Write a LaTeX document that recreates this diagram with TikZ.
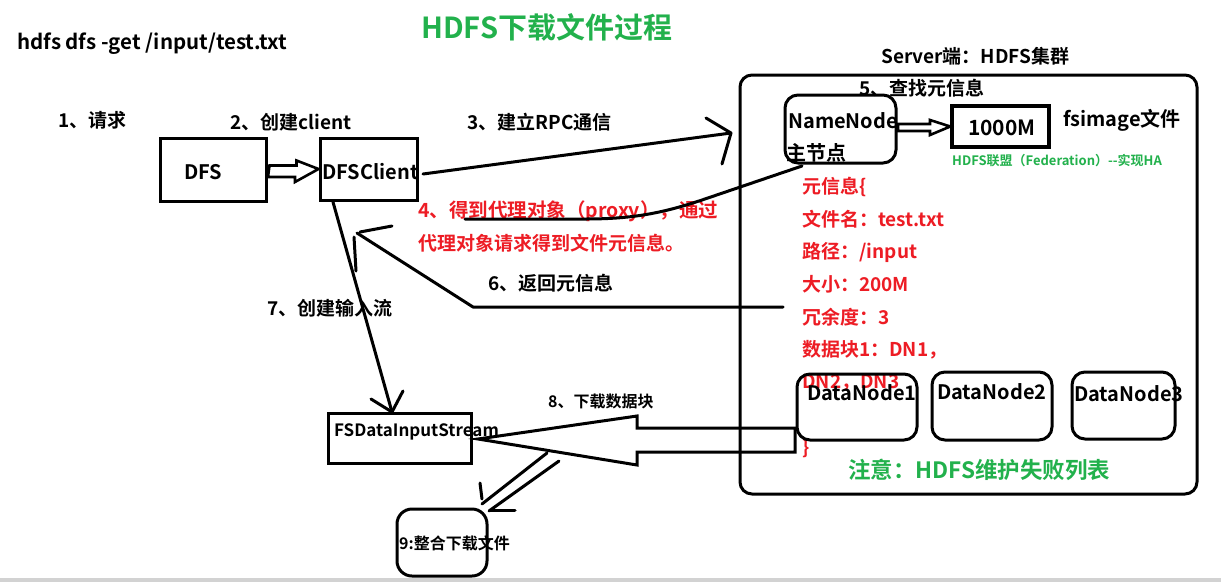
\documentclass[tikz,border=0pt]{standalone}
\usepackage{fontspec}
\setmainfont{Noto Sans CJK SC Bold}
\definecolor{pgreen}{HTML}{22B14C}
\definecolor{pred}{HTML}{ED1C24}
\definecolor{pgray}{HTML}{D2D2D2}
\tikzset{
  txt/.style={inner sep=0pt, anchor=west, font=\fontsize{#1}{#1}\selectfont},
  sq/.style={draw, line width=3pt, inner sep=0pt},
  rbox/.style={draw, line width=3pt, inner sep=0pt, rounded corners=13pt},
  conn/.style={line width=3pt, line cap=round, line join=round},
  hollow/.style={line width=2.6pt, line join=miter},
  meta/.style={txt=19, text=pred},
}
\begin{document}
\begin{tikzpicture}[x=1pt,y=-1pt]
\useasboundingbox (0,0) rectangle (1221,582);
\fill[white] (0,0) rectangle (1221,582);
\fill[pgray] (0,578) rectangle (1221,582);

% titles and labels
\node[txt=29, text=pgreen] (title) at (421,27) {HDFS下载文件过程};
\node[txt=20.5] (cmd) at (17,44) {hdfs dfs -get /input/test.txt};
\node[txt=19] (l1) at (58,120) {1、请求};
\node[txt=19] (l2) at (230,122) {2、创建client};
\node[txt=19] (l3) at (467,122) {3、建立RPC通信};
\node[txt=19] (srv) at (881,56) {Server端：HDFS集群};
\node[txt=19] (l5) at (859,88) {5、查找元信息};
\node[txt=19.5, text=pred] (l4a) at (418,211) {4、得到代理对象（proxy），通过};
\node[txt=19, text=pred] (l4b) at (418,243) {代理对象请求得到文件元信息。};
\node[txt=19] (l6) at (488,283) {6、返回元信息};
\node[txt=19] (l7) at (267,308) {7、创建输入流};
\node[txt=16] (l8) at (548,401) {8、下载数据块};

% boxes
\node[sq, minimum width=106pt, minimum height=63pt] (dfs) at (213,169.5) {};
\node[txt=20] (dfst) at (184,172) {DFS};
\node[sq, minimum width=97pt, minimum height=62pt] (dfsc) at (368.5,169) {};
\node[txt=20] (dfsct) at (322,172) {DFSClient};

\node[rbox, minimum width=457pt, minimum height=419pt, rounded corners=12pt] (server) at (968.5,284.5) {};
\node[rbox, minimum width=111pt, minimum height=68pt] (nn) at (840.5,129) {};
\node[txt=20] (nnt) at (788,121) {NameNode};
\node[txt=20] (nnt2) at (786,153) {主节点};
\node[sq, minimum width=97pt, minimum height=41pt, line width=3.5pt] (img) at (1000.5,126.5) {};
\node[txt=21] (imgt) at (968,128) {1000M};
\node[txt=20] (fsimg) at (1063,120) {fsimage文件};
\node[txt=13, text=pgreen] (fed) at (952,161) {HDFS联盟（Federation）-{}-实现HA};

\node[meta] (m1) at (802,187) {元信息\{};
\node[meta] (m2) at (802,219) {文件名：test.txt};
\node[meta] (m3) at (802,252) {路径：/input};
\node[meta] (m4) at (802,284) {大小：200M};
\node[meta] (m5) at (802,317) {冗余度：3};
\node[meta] (m6) at (802,350) {数据块1：DN1，};
\node[meta] (m7) at (802,383) {DN2，DN3};
\node[meta] (m8) at (802,448) {\}};

\node[rbox, minimum width=120pt, minimum height=66pt] (dn1) at (857,407) {};
\node[txt=20] (dn1t) at (807,393) {DataNode1};
\node[rbox, minimum width=120pt, minimum height=68pt] (dn2) at (992,406) {};
\node[txt=20] (dn2t) at (937,392) {DataNode2};
\node[rbox, minimum width=103pt, minimum height=67pt] (dn3) at (1123.5,405.5) {};
\node[txt=20] (dn3t) at (1074,394) {DataNode3};
\node[txt=22.5, text=pgreen] (note) at (848,470) {注意：HDFS维护失败列表};

\node[sq, minimum width=143pt, minimum height=50pt] (fsin) at (399.5,438) {};
\node[txt=17] (fsint) at (334,432) {FSDataInputStream};
\node[rbox, minimum width=90pt, minimum height=67pt, rounded corners=15pt] (merge) at (442,542.5) {};
\node[txt=16] (merget) at (399,543) {9:整合下载文件};

% hollow arrow DFS -> DFSClient
\draw[hollow] (dfs.east) ++(2,-4) -- ++(27,0) -- ++(0,-5) -- (dfsc.west) -- (295,182) -- (295,177) -- (268,177) -- cycle;
% hollow arrow NameNode -> 1000M
\draw[hollow] (898,124) -- (930,124) -- (930,120) -- (img.west) -- (930,135) -- (930,131) -- (898,131) -- cycle;

% 3: RPC
\coordinate (a3s) at (423,174);
\coordinate (a3e) at (731,133);
\draw[conn] (a3s) -- (a3e);
\draw[conn] (706,118) -- (a3e) -- (722,164);

% 4: proxy
\coordinate (a4s) at (802,166);
\coordinate (a4e) at (465,219);
\draw[conn] (a4s) -- (702,200) .. controls (660,214) and (630,219) .. (585,219) -- (a4e);

% 6: return metadata
\coordinate (a6s) at (783,307);
\coordinate (a6e) at (357,233);
\draw[conn] (a6s) -- (473,307) -- (a6e);
\draw[conn] (392,226) -- (360,232);
\draw[conn] (354,237) -- (356,271);

% 7: create input stream
\coordinate (a7s) at (333,202);
\coordinate (a7e) at (392,412);
\draw[conn] (a7s) -- (a7e);
\draw[conn] (371,399) -- (a7e) -- (403,391);

% 8: download block (hollow big arrow)
\draw[hollow, line width=3pt] (797,428) -- (637,428) -- (637,416) -- (478,439) -- (637,465) -- (637,452) -- (795,452) -- (795,428);

% 9: merge (double line arrow)
\draw[conn] (547,453) -- (482,504);
\draw[conn] (559,461) -- (489,511);
\draw[conn] (480,483) -- (482,499);
\draw[conn] (490,510) -- (515,510);
\end{tikzpicture}
\end{document}
